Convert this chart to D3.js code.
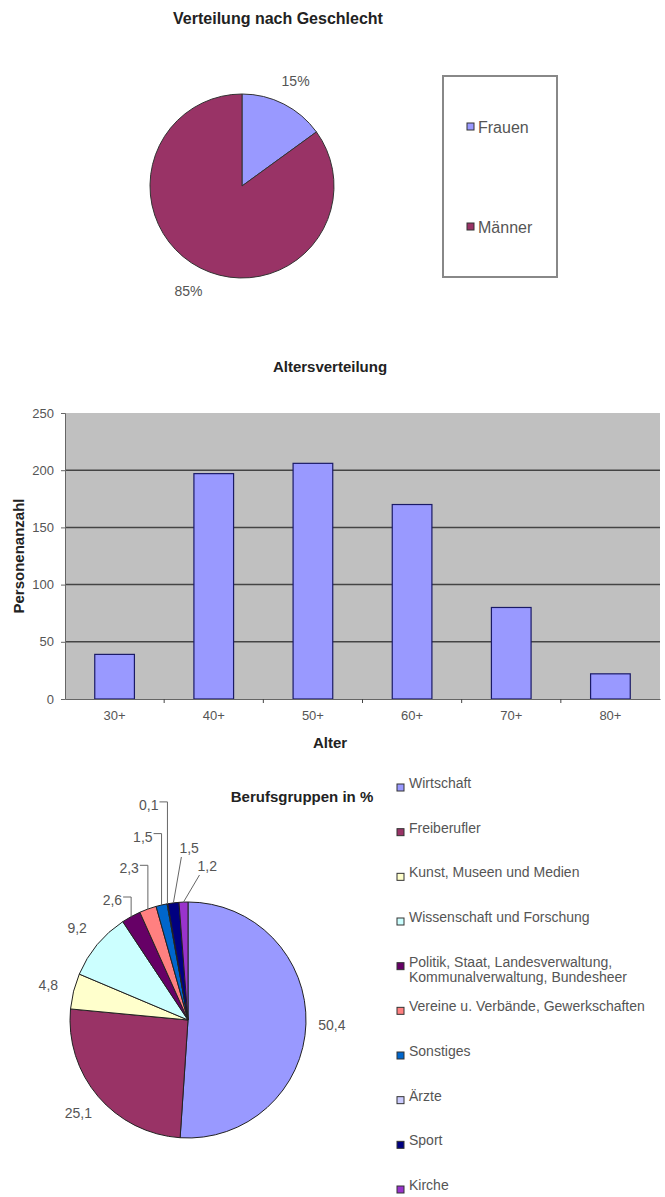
<!DOCTYPE html>
<html>
<head>
  <meta charset="utf-8">
  <title>Mitglieder</title>
  <script type="text/javascript" src="https://d3js.org/d3.v7.min.js"></script>
  <style>
    body { margin: 0; background: #fff; }
    text { font-family: "Liberation Sans", Arial, sans-serif; }
  </style>
</head>
<body>
  <div id="container"></div>
  <script type="text/javascript">
    const genderLabels = ['Frauen', 'Männer'];
    const genderValues = [15, 85];
    const genderColours = ['#9999FF', '#993366'];

    const ageGroups = ['30+', '40+', '50+', '60+', '70+', '80+'];
    const ageCounts = [39, 197, 206, 170, 80, 22];
    const ageTicks = [0, 50, 100, 150, 200, 250];

    const jobGroups = ['Wirtschaft', 'Freiberufler', 'Kunst, Museen und Medien', 'Wissenschaft und Forschung',
      'Politik, Staat, Landesverwaltung,|Kommunalverwaltung, Bundesheer', 'Vereine u. Verbände, Gewerkschaften',
      'Sonstiges', 'Ärzte', 'Sport', 'Kirche'];
    const jobShares = [50.4, 25.1, 4.8, 9.2, 2.6, 2.3, 1.5, 0.1, 1.5, 1.2];
    const jobColours = ['#9999FF', '#993366', '#FFFFCC', '#CCFFFF', '#660066', '#FF8080',
      '#0066CC', '#CCCCFF', '#000080', '#9933CC'];

    const deNum = v => String(v).replace('.', ',');
    const FONT = '"Liberation Sans", Arial, sans-serif';

    function drawGender(svg) {
      const cx = 242, cy = 186, r = 92;
      svg.append('text').attr('x', 278).attr('y', 24).attr('text-anchor', 'middle')
        .attr('font-size', 16).attr('font-weight', 'bold').attr('fill', '#222')
        .text('Verteilung nach Geschlecht');

      const g = svg.append('g').attr('transform', `translate(${cx},${cy})`);
      const arcs = d3.pie().sort(null)(genderValues);
      const arc = d3.arc().innerRadius(0).outerRadius(r);
      g.selectAll('path').data(arcs).enter().append('path')
        .attr('d', arc)
        .attr('fill', (d, i) => genderColours[i])
        .attr('stroke', '#333').attr('stroke-width', 1);

      const lab = d3.arc().innerRadius(118).outerRadius(118);
      g.selectAll('text.pct').data(arcs).enter().append('text')
        .attr('class', 'pct')
        .attr('transform', d => `translate(${lab.centroid(d)})`)
        .attr('text-anchor', 'middle').attr('dy', '0.35em')
        .attr('font-size', 14).attr('fill', '#555')
        .text(d => d.data + '%');

      // legend box
      svg.append('rect').attr('x', 443).attr('y', 76).attr('width', 114).attr('height', 201)
        .attr('fill', '#fff').attr('stroke', '#888').attr('stroke-width', 2);
      const ly = d3.scalePoint().domain(genderLabels).range([127, 227]);
      const lg = svg.selectAll('g.glegend').data(genderLabels).enter().append('g')
        .attr('class', 'glegend')
        .attr('transform', d => `translate(467,${ly(d)})`);
      lg.append('rect').attr('x', 0).attr('y', -4).attr('width', 7).attr('height', 7)
        .attr('fill', (d, i) => genderColours[i]).attr('stroke', '#333');
      lg.append('text').attr('x', 11).attr('dy', '0.35em')
        .attr('font-size', 16).attr('fill', '#555').text(d => d);
    }

    function drawAge(svg) {
      const left = 65, right = 660, top = 413, bottom = 699;
      svg.append('text').attr('x', 330).attr('y', 372).attr('text-anchor', 'middle')
        .attr('font-size', 15).attr('font-weight', 'bold').attr('fill', '#222')
        .text('Altersverteilung');

      const x = d3.scaleBand().domain(ageGroups).range([left, right]).paddingInner(0.6).paddingOuter(0.3);
      const y = d3.scaleLinear().domain([0, 250]).range([bottom, top]);

      svg.append('rect').attr('x', left).attr('y', top)
        .attr('width', right - left).attr('height', bottom - top).attr('fill', '#C0C0C0');

      svg.append('g').selectAll('line').data(ageTicks.filter(t => t > 0 && t < 250)).enter()
        .append('line')
        .attr('x1', left).attr('x2', right)
        .attr('y1', d => y(d)).attr('y2', d => y(d))
        .attr('stroke', '#444').attr('stroke-width', 1.5);

      svg.append('g').selectAll('rect').data(ageCounts).enter().append('rect')
        .attr('x', (d, i) => x(ageGroups[i]))
        .attr('y', d => y(d))
        .attr('width', x.bandwidth())
        .attr('height', d => bottom - y(d))
        .attr('fill', '#9999FF').attr('stroke', '#1a1a66').attr('stroke-width', 1.2);

      const yAxis = svg.append('g').attr('transform', `translate(${left},0)`)
        .call(d3.axisLeft(y).tickValues(ageTicks).tickSize(4).tickPadding(7));
      yAxis.select('.domain').attr('stroke', '#666');
      yAxis.selectAll('line').attr('stroke', '#666');
      yAxis.selectAll('text').attr('font-size', 13).attr('fill', '#555').attr('font-family', FONT);

      const xAxis = svg.append('g').attr('transform', `translate(0,${bottom})`)
        .call(d3.axisBottom(x).tickSize(0).tickPadding(12));
      xAxis.select('.domain').attr('stroke', '#666');
      xAxis.selectAll('text').attr('font-size', 13).attr('fill', '#555').attr('font-family', FONT);
      // tick marks between the categories
      const step = x.step();
      xAxis.selectAll('line.sep').data(ageGroups.slice(1)).enter().append('line')
        .attr('class', 'sep')
        .attr('x1', d => x(d) - step * x.paddingInner() / 2)
        .attr('x2', d => x(d) - step * x.paddingInner() / 2)
        .attr('y1', 0).attr('y2', 4).attr('stroke', '#444');

      svg.append('text').attr('x', 330).attr('y', 748).attr('text-anchor', 'middle')
        .attr('font-size', 15).attr('font-weight', 'bold').attr('fill', '#222').text('Alter');
      svg.append('text')
        .attr('transform', `translate(24,${(top + bottom) / 2}) rotate(-90)`)
        .attr('text-anchor', 'middle')
        .attr('font-size', 15).attr('font-weight', 'bold').attr('fill', '#222')
        .text('Personenanzahl');
    }

    function drawJobs(svg) {
      const cx = 188, cy = 1020, r = 118;
      svg.append('text').attr('x', 302).attr('y', 802).attr('text-anchor', 'middle')
        .attr('font-size', 15).attr('font-weight', 'bold').attr('fill', '#222')
        .text('Berufsgruppen in %');

      const g = svg.append('g').attr('transform', `translate(${cx},${cy})`);
      const arcs = d3.pie().sort(null)(jobShares);
      const arc = d3.arc().innerRadius(0).outerRadius(r);
      g.selectAll('path').data(arcs).enter().append('path')
        .attr('d', arc)
        .attr('fill', (d, i) => jobColours[i])
        .attr('stroke', '#222').attr('stroke-width', 1);

      // big slices: label outside on the mid angle
      const lab = d3.arc().innerRadius(144).outerRadius(144);
      const big = arcs.filter(d => d.data >= 3);
      g.selectAll('text.big').data(big).enter().append('text')
        .attr('class', 'big')
        .attr('transform', d => `translate(${lab.centroid(d)})`)
        .attr('text-anchor', 'middle').attr('dy', '0.35em')
        .attr('font-size', 14).attr('fill', '#555')
        .text(d => deNum(d.data));

      // small slices: stacked labels with leader lines
      const small = arcs.filter(d => d.data < 3);
      const leftSide = small.slice(0, 4), rightSide = small.slice(4);
      const edge = d => {
        const a = (d.startAngle + d.endAngle) / 2;
        return [r * Math.sin(a), -r * Math.cos(a)];
      };
      leftSide.forEach((d, k) => {
        const [ex, ey] = edge(d);
        const ty = -120 - k * 31.7, tx = ex - 9;
        g.append('text').attr('x', tx).attr('y', ty).attr('dy', '0.35em')
          .attr('text-anchor', 'end').attr('font-size', 14).attr('fill', '#555')
          .text(deNum(d.data));
        g.append('path')
          .attr('d', d3.line()([[tx + 1, ty - 3], [ex, ty - 3], [ex, ey]]))
          .attr('fill', 'none').attr('stroke', '#666').attr('stroke-width', 1);
      });
      rightSide.slice().reverse().forEach((d, k) => {
        const [ex, ey] = edge(d);
        const ty = -154 - k * 18, tx = ex + 6 + (1 - k) * 8;
        g.append('text').attr('x', tx).attr('y', ty).attr('dy', '0.35em')
          .attr('text-anchor', 'start').attr('font-size', 14).attr('fill', '#555')
          .text(deNum(d.data));
        g.append('line').attr('x1', tx + 2).attr('y1', ty + 9).attr('x2', ex).attr('y2', ey)
          .attr('stroke', '#666').attr('stroke-width', 1);
      });

      // legend
      const ly = d3.scaleLinear().domain([0, jobGroups.length - 1]).range([788, 1190]);
      const lg = svg.selectAll('g.jlegend').data(jobGroups).enter().append('g')
        .attr('class', 'jlegend')
        .attr('transform', (d, i) => `translate(397,${ly(i)})`);
      lg.append('rect').attr('x', 0).attr('y', -4).attr('width', 7).attr('height', 7)
        .attr('fill', (d, i) => jobColours[i]).attr('stroke', '#333');
      lg.append('text').attr('x', 12).attr('dy', '0.35em')
        .attr('font-size', 14).attr('fill', '#555')
        .selectAll('tspan').data(d => d.split('|')).enter().append('tspan')
        .attr('x', 12).attr('dy', (d, i) => i === 0 ? 0 : 15)
        .text(d => d);
    }

    function drawPage() {
      d3.select('#container').selectAll('svg').remove();
      const svg = d3.select('#container').append('svg')
        .attr('width', 665).attr('height', 1197)
        .attr('viewBox', '0 0 665 1197');
      svg.append('rect').attr('width', 665).attr('height', 1197).attr('fill', '#fff');
      drawGender(svg);
      drawAge(svg);
      drawJobs(svg);
    }

    drawPage();
  </script>
</body>
</html>
